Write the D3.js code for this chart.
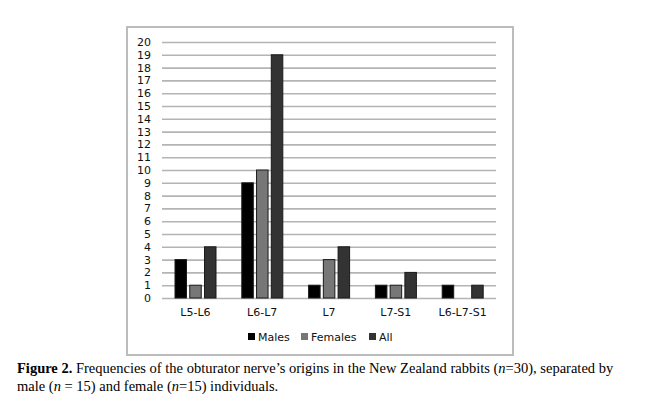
<!DOCTYPE html>
<html>
<head>
<meta charset="utf-8">
<script src="https://cdn.jsdelivr.net/npm/d3@7"></script>
<style>
body { margin:0; background:#fff; }
.axis text { font-family:"DejaVu Sans", sans-serif; font-size:11px; fill:#111; }
.caption { font-family:"Liberation Serif", serif; font-size:14.5px; fill:#000; }
</style>
</head>
<body>
<div id="canvas" class="canvas"></div>
<script>
// data
var categories = ["L5-L6", "L6-L7", "L7", "L7-S1", "L6-L7-S1"];
var seriesNames = ["Males", "Females", "All"];
var males   = [3, 9, 1, 1, 1];
var females = [1, 10, 3, 1, 0];
var all     = [4, 19, 4, 2, 1];
var yTicks = d3.range(0, 21);

var seriesValues = [males, females, all];
var colors = ["#000000", "#777777", "#333333"];

var W = 650, H = 409;
var svg = d3.select('.canvas').append('svg')
    .attr('width', W).attr('height', H);

// outer chart frame
svg.append('rect')
    .attr('x', 127).attr('y', 27)
    .attr('width', 386).attr('height', 328)
    .attr('fill', '#fff')
    .attr('stroke', '#bcbcbc')
    .attr('stroke-width', 2);

var m = {t:42, l:162};
var w = 334, h = 256;
var plot = svg.append('g')
    .attr('transform', 'translate(' + m.l + ',' + m.t + ')');

var scaleY = d3.scaleLinear().domain([0, 20]).range([h, 0]);
var scaleX = d3.scaleBand().domain(categories).range([0, w]);
var scaleInner = d3.scaleBand().domain(seriesNames)
    .range([13, 54]).paddingInner(0.22);

// gridlines + y labels
var axisY = d3.axisLeft(scaleY).tickValues(yTicks).tickSize(-w).tickPadding(11);
var yNode = plot.append('g').attr('class', 'axis axis-y').call(axisY);
yNode.select('.domain').remove();
yNode.selectAll('line').attr('stroke', '#b4b4b4').attr('stroke-width', 1.6);

// bars
var rows = categories.map(function(c, i) {
    return seriesNames.map(function(s, j) {
        return {cat:c, series:s, value:seriesValues[j][i], color:colors[j]};
    });
});

var groups = plot.selectAll('.grp')
    .data(rows)
    .enter()
    .append('g')
    .attr('class', 'grp')
    .attr('transform', function(d, i) { return 'translate(' + scaleX(categories[i]) + ',0)'; });

groups.selectAll('rect')
    .data(function(d) { return d.filter(function(e) { return e.value > 0; }); })
    .enter()
    .append('rect')
    .attr('x', function(d) { return scaleInner(d.series); })
    .attr('y', function(d) { return scaleY(d.value); })
    .attr('width', scaleInner.bandwidth())
    .attr('height', function(d) { return h - scaleY(d.value); })
    .attr('fill', function(d) { return d.color; })
    .attr('stroke', '#1a1a1a')
    .attr('stroke-width', 1);

// x axis labels
var axisX = d3.axisBottom(scaleX).tickSize(0).tickPadding(10);
var xNode = plot.append('g')
    .attr('class', 'axis axis-x')
    .attr('transform', 'translate(0,' + h + ')')
    .call(axisX);
xNode.select('.domain').remove();

// legend
var legendX = [248, 301, 369];
var legend = svg.append('g').attr('class', 'axis');
seriesNames.forEach(function(s, i) {
    legend.append('rect')
        .attr('x', legendX[i]).attr('y', 333)
        .attr('width', 7).attr('height', 7)
        .attr('fill', colors[i]);
    legend.append('text')
        .attr('x', legendX[i] + 10).attr('y', 341)
        .text(s);
});

// caption
var cap1 = svg.append('text').attr('class', 'caption').attr('x', 17).attr('y', 373);
cap1.append('tspan').attr('font-weight', 'bold').text('Figure 2.');
cap1.append('tspan').text(' Frequencies of the obturator nerve\u2019s origins in the New Zealand rabbits (');
cap1.append('tspan').attr('font-style', 'italic').text('n');
cap1.append('tspan').text('=30), separated by');

var cap2 = svg.append('text').attr('class', 'caption').attr('x', 17).attr('y', 391);
cap2.append('tspan').text('male (');
cap2.append('tspan').attr('font-style', 'italic').text('n');
cap2.append('tspan').text(' = 15) and female (');
cap2.append('tspan').attr('font-style', 'italic').text('n');
cap2.append('tspan').text('=15) individuals.');
</script>
</body>
</html>
